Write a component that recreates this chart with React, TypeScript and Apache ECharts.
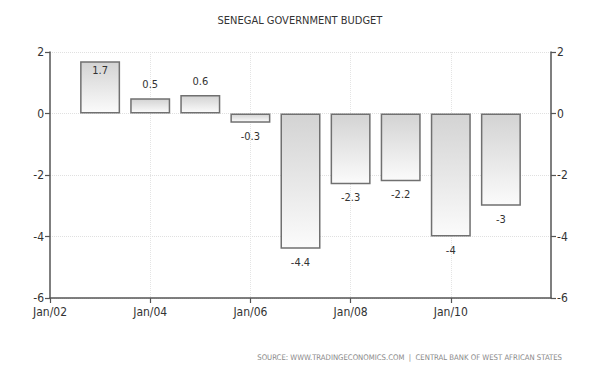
import React, { useEffect, useRef } from "react";
import * as echarts from "echarts";

const categories = ["Jan/02", "Jan/03", "Jan/04", "Jan/05", "Jan/06", "Jan/07", "Jan/08", "Jan/09", "Jan/10", "Jan/11", "Jan/12"];
const budget: (number | null)[] = [null, 1.7, 0.5, 0.6, -0.3, -4.4, -2.3, -2.2, -4, -3, null];
const shownLabels = ["Jan/02", "Jan/04", "Jan/06", "Jan/08", "Jan/10"];
const titleText = "SENEGAL GOVERNMENT BUDGET";
const sourceText = "SOURCE: WWW.TRADINGECONOMICS.COM  |  CENTRAL BANK OF WEST AFRICAN STATES";

const FONT = "'DejaVu Sans Condensed', 'Liberation Sans Narrow', 'Roboto Condensed', 'DejaVu Sans', sans-serif";

export default function App() {
  const ref = useRef<HTMLDivElement>(null);
  useEffect(() => {
    if (!ref.current) return;
    const chart = echarts.init(ref.current, null, { renderer: "svg" });
    const showIdx = (i: number) => shownLabels.includes(categories[i]);
    const yAxisCommon = {
      type: "value" as const,
      min: -6,
      max: 2,
      interval: 2,
      axisLine: { show: true, lineStyle: { color: "#555", width: 1.5 } },
      axisTick: { show: true, length: 5, lineStyle: { color: "#555", width: 1.2 } },
      axisLabel: { color: "#333", fontSize: 12, fontFamily: FONT, margin: 6 },
    };
    chart.setOption({
      animation: false,
      backgroundColor: "#ffffff",
      textStyle: { fontFamily: FONT },
      title: [
        {
          text: titleText,
          left: "center",
          top: 10,
          textStyle: { fontSize: 11, fontWeight: "normal", color: "#333", fontFamily: FONT },
        },
        {
          text: sourceText,
          right: 33,
          top: 348,
          textStyle: { fontSize: 7.7, fontWeight: "normal", color: "#888", fontFamily: FONT },
        },
      ],
      grid: { left: 50, right: 49, top: 52, bottom: 74 },
      xAxis: {
        type: "category",
        data: categories,
        boundaryGap: false,
        axisLine: { show: true, onZero: false, lineStyle: { color: "#555", width: 1.5 } },
        axisTick: { show: true, length: 5, interval: (i: number) => showIdx(i), lineStyle: { color: "#555", width: 1.2 } },
        axisLabel: { color: "#333", fontSize: 12, fontFamily: FONT, margin: 8, interval: (i: number) => showIdx(i) },
        splitLine: { show: true, interval: (i: number) => showIdx(i) && i > 0, lineStyle: { color: "#e4e4e4", type: "dotted" } },
      },
      yAxis: [
        {
          ...yAxisCommon,
          position: "left",
          splitLine: { show: true, lineStyle: { color: "#e0e0e0", type: "dotted" } },
        },
        {
          ...yAxisCommon,
          position: "right",
          splitLine: { show: false },
        },
      ],
      series: [
        {
          type: "bar",
          yAxisIndex: 0,
          barWidth: 40,
          data: budget.map((v) =>
            v === null
              ? null
              : {
                  value: v,
                  label: {
                    position: v > 1.5 ? "insideTop" : v >= 0 ? "top" : "bottom",
                    distance: v > 1.5 ? 4 : 8,
                  },
                }
          ),
          itemStyle: {
            borderColor: "#707070",
            borderWidth: 1.5,
            color: new echarts.graphic.LinearGradient(0, 0, 0, 1, [
              { offset: 0, color: "#d3d3d3" },
              { offset: 1, color: "#fbfbfb" },
            ]),
          },
          label: {
            show: true,
            color: "#333",
            fontSize: 11,
            fontFamily: FONT,
            formatter: (p: any) => String(p.value),
          },
        },
      ],
    });
    return () => chart.dispose();
  }, []);
  return <div ref={ref} style={{ width: 600, height: 372, position: "absolute", left: 0, top: 0 }} />;
}
